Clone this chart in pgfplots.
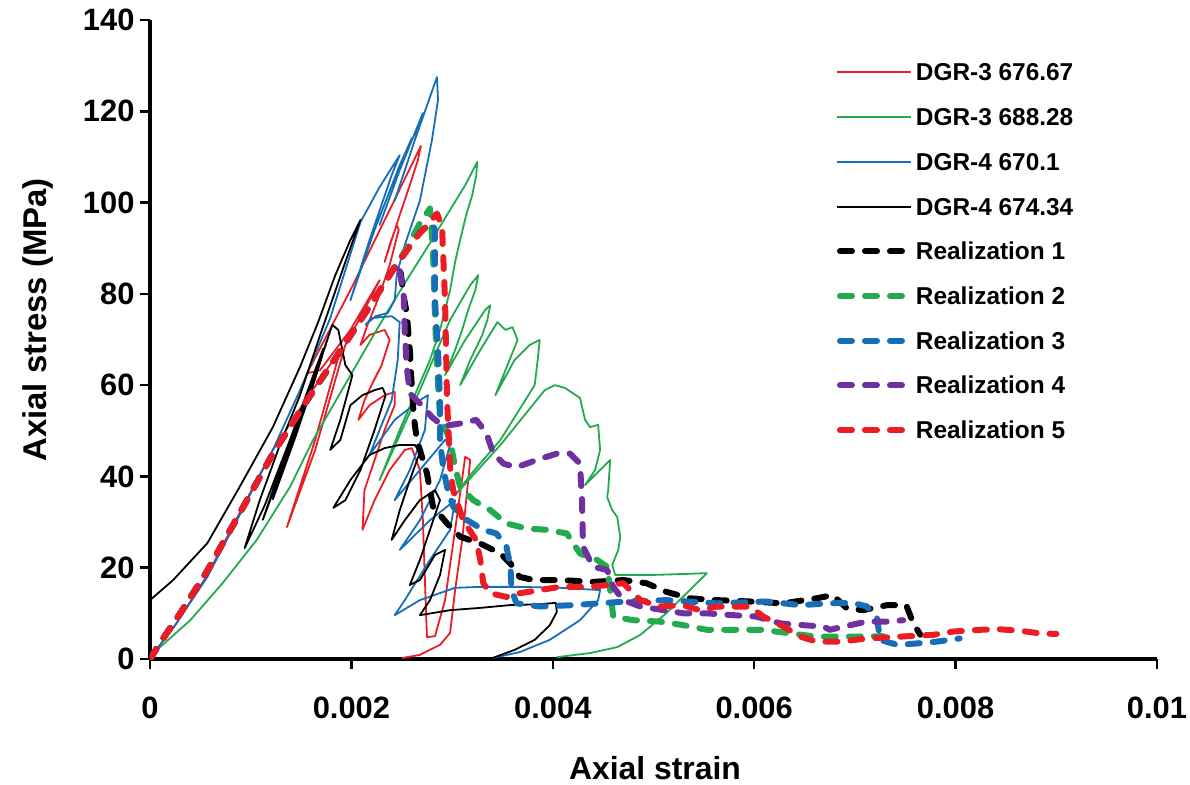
\documentclass[border=0pt]{standalone}
\usepackage{fontspec}
\setmainfont{Liberation Sans}
\usepackage{pgfplots}
\pgfplotsset{compat=1.18}
\definecolor{cred}{RGB}{237,28,36}
\definecolor{cgreen}{RGB}{34,170,76}
\definecolor{cblue}{RGB}{23,110,184}
\definecolor{cpurple}{RGB}{112,48,160}
\pgfplotsset{
  thin/.style={line width=1.8bp, line join=round},
  rdash/.style={line width=6bp, dash pattern=on 12bp off 13bp, line cap=round, line join=round,
     legend image code/.code={\draw[##1] (3bp,0bp) -- (65bp,0bp);}},
}
\begin{document}
\begin{tikzpicture}
\useasboundingbox (-150bp,-126bp) rectangle (1040bp,659bp);
\begin{axis}[
  at={(0,0)}, anchor=south west,
  scale only axis, width=1007bp, height=639bp,
  xmin=0, xmax=10, ymin=0, ymax=140,
  axis lines*=left,
  axis line style={line width=3.5bp, black},
  xtick={0,2,4,6,8,10},
  xticklabels={0,0.002,0.004,0.006,0.008,0.01},
  ytick={0,20,40,60,80,100,120,140},
  tick align=outside,
  major tick length=10bp,
  tick style={line width=2.5bp, black},
  /pgf/number format/assume math mode=true,
  ticklabel style={font=\bfseries\fontsize{31}{31}\selectfont},
  xticklabel style={yshift=-24bp},
  yticklabel style={xshift=-2bp},
  xlabel={Axial strain},
  ylabel={Axial stress (MPa)},
  xlabel style={font=\bfseries\fontsize{32}{32}\selectfont, at={(rel axis cs:0.5015,-0.1706)}, anchor=center},
  ylabel style={font=\bfseries\fontsize{33}{33}\selectfont, at={(rel axis cs:-0.1112,0.5305)}, anchor=center, rotate=0},
  legend cell align=left,
  legend style={at={(rel axis cs:0.681,0.9315)}, anchor=north west, draw=none, fill=none,
     font=\bfseries\fontsize{24.5}{24.5}\selectfont, inner sep=0pt, row sep=27.7bp,
     nodes={inner xsep=4bp, inner ysep=0pt, text height=17bp, text depth=0pt}},
  legend image code/.code={\draw[#1, line width=2bp] (0bp,0bp) -- (74bp,0bp);},
]
% DGR-3 676.67 (red thin)
\addplot[thin, cred] coordinates {
(0,0.2)(0.25,7.4)(0.57,18.4)(0.89,32.0)(1.22,45.8)(1.56,57.2)(1.89,67.7)
(1.64,48.0)(1.36,28.9)(1.64,45.8)(1.94,68.8)
(2.13,76.5)(2.28,83.0)(1.99,72.1)(1.69,63.3)(1.56,62.6)
(1.99,80.8)(2.38,98.4)(2.69,112.4)
(2.66,109.3)(2.58,103.8)(2.48,97.3)(2.40,91.8)(2.33,87.0)(2.38,90.7)(2.45,95.1)(2.47,94.0)
(2.38,86.3)(2.26,78.6)(2.16,73.2)(2.09,68.8)(2.18,71.0)(2.33,72.1)(2.38,69.9)(2.30,64.4)
(2.20,60.0)(2.13,56.7)(2.07,52.4)(2.18,55.6)(2.33,57.8)(2.43,58.5)(2.43,55.6)(2.33,50.2)
(2.23,43.6)(2.13,37.0)(2.11,28.3)(2.23,34.8)(2.38,41.4)(2.53,45.8)(2.60,46.2)(2.68,41.4)
(2.71,30.4)(2.73,17.3)(2.75,4.8)(2.83,5.0)(2.93,12.9)(3.03,28.3)(3.13,44.3)(3.18,43.6)
(3.16,39.2)(3.10,26.1)(3.03,15.1)(2.98,5.7)(2.88,3.1)(2.68,0.9)(2.50,0.2)
};
\addlegendentry{DGR-3 676.67}
% DGR-3 688.28 (green thin)
\addplot[thin, cgreen] coordinates {
(0,0.2)(0.10,2.6)(0.40,8.5)(0.72,16.6)(1.06,26.1)(1.39,37.7)(1.62,48.0)(1.89,58.3)
(2.15,68.3)(2.35,75.8)(2.58,84.1)(2.78,91.1)(2.98,98.4)(3.13,103.8)(3.25,108.9)
(3.24,106.0)(3.20,101.6)(3.14,97.3)(3.08,91.8)(3.03,87.0)(2.98,80.8)(2.88,72.1)(2.78,65.5)
(2.48,50.2)(2.28,39.2)(2.68,58.9)(2.98,74.3)(3.18,81.9)(3.26,84.1)
(3.23,80.8)(3.16,76.5)(3.10,72.1)(3.03,67.7)(2.93,62.2)(3.13,69.9)(3.33,76.5)(3.38,77.5)
(3.35,74.3)(3.30,71.0)(3.18,65.5)(3.08,60.0)(3.28,67.7)(3.45,73.8)(3.53,72.1)(3.60,72.7)
(3.65,69.9)(3.53,63.3)(3.43,57.8)(3.62,65.5)(3.77,68.8)(3.87,69.9)(3.85,65.5)(3.82,60.0)
(3.48,48.0)(3.18,40.3)(3.03,35.9)(3.48,46.9)(3.92,58.9)(4.02,60.0)(4.12,59.4)(4.27,57.2)
(4.32,52.4)(4.37,50.8)(4.45,51.3)(4.47,45.8)(4.42,41.4)(4.32,38.1)(4.47,41.4)(4.57,43.6)
(4.55,37.0)(4.54,35.5)(4.59,32.6)(4.64,31.1)(4.67,26.7)(4.65,23.9)(4.59,20.6)(4.62,18.4)
(4.97,18.4)(5.26,18.6)(5.53,18.8)(5.36,15.1)(5.13,10.1)(4.87,5.3)(4.64,2.6)(4.37,1.3)(4.04,0.4)
};
\addlegendentry{DGR-3 688.28}
% DGR-4 670.1 (blue thin)
\addplot[thin, cblue] coordinates {
(0,0.2)(0.25,7.4)(0.57,18.0)(0.89,31.5)(1.22,45.8)(1.49,58.9)(1.79,74.7)(2.09,95.7)
(2.28,103.4)(2.48,110.4)(2.40,106.0)(2.18,91.8)(1.99,78.6)(2.23,94.0)(2.48,108.2)(2.60,114.1)
(2.48,107.1)(2.28,95.1)(2.48,107.1)(2.71,119.6)(2.63,113.7)(2.43,100.4)(2.63,113.7)(2.85,127.5)
(2.86,122.5)(2.80,113.7)(2.68,100.4)(2.53,90.7)(2.45,84.1)(2.43,78.6)(2.36,75.8)(2.24,75.1)
(2.14,73.2)(2.20,74.7)(2.40,75.1)(2.48,73.8)(2.46,65.5)(2.40,56.7)(2.28,50.2)(2.18,44.7)
(2.43,52.4)(2.68,56.7)(2.76,57.8)(2.73,50.2)(2.58,41.4)(2.43,34.8)(2.68,41.4)(2.93,48.0)
(2.98,46.9)(2.88,39.2)(2.68,30.4)(2.48,23.9)(2.78,30.4)(3.03,34.8)(2.98,28.3)(2.78,21.7)
(2.53,12.9)(2.43,9.6)(2.68,12.9)(3.03,15.6)(3.28,15.8)(3.67,15.8)(4.07,15.6)(4.47,15.1)
(4.45,12.9)(4.27,8.5)(3.97,4.2)(3.67,1.5)(3.40,0.2)
};
\addlegendentry{DGR-4 670.1}
% DGR-4 674.34 (black thin)
\addplot[thin, black] coordinates {
(0,12.9)(0.23,17.3)(0.57,25.4)(0.89,37.7)(1.22,50.8)(1.49,64.0)(1.67,73.8)(1.84,84.1)
(1.99,91.8)(2.09,96.2)(1.94,87.0)(1.69,71.0)(1.49,57.8)(1.29,46.9)(1.09,34.8)(0.94,24.3)
(1.14,33.7)(1.39,48.0)(1.64,63.3)(1.72,68.0)(1.55,57.0)(1.30,42.0)(1.12,30.5)(1.35,44.0)
(1.60,59.5)(1.76,70.0)(1.62,60.0)(1.40,46.0)(1.22,35.0)(1.45,49.0)(1.68,64.5)
(1.81,73.2)(1.87,72.1)(1.94,64.4)(2.01,62.2)(1.97,58.9)
(1.89,52.4)(1.79,45.8)(1.89,48.0)(1.99,55.6)(2.11,57.8)(2.23,58.9)(2.31,59.4)(2.34,57.8)
(2.23,50.2)(2.09,41.4)(1.94,34.8)(1.82,33.1)(1.99,39.2)(2.18,44.7)(2.33,46.2)(2.48,46.9)
(2.63,46.9)(2.68,45.3)(2.58,39.2)(2.48,32.6)(2.40,26.1)(2.53,30.4)(2.68,34.8)(2.83,37.0)
(2.88,34.8)(2.78,28.3)(2.68,21.7)(2.58,16.2)(2.68,17.3)(2.83,22.8)(2.93,23.9)(2.88,18.4)
(2.78,12.9)(2.68,9.6)(2.98,10.7)(3.28,11.2)(3.57,11.8)(3.87,12.0)(4.03,12.3)(4.04,10.3)
(3.97,7.4)(3.82,4.2)(3.62,2.0)(3.40,0.2)
};
\addlegendentry{DGR-4 674.34}
% Realization 1
\addplot[rdash, black] coordinates {
(0,0)(0.1,3.5)(0.3,10)(0.56,19)(0.89,31.9)(1.22,45)(1.56,56.7)(1.89,67.5)(2.22,78.6)(2.42,85.5)
(2.48,86.3)(2.52,79.4)(2.55,75.7)(2.58,67.7)(2.60,59.6)(2.62,53)(2.65,48)(2.68,45.8)(2.75,40.7)
(2.81,33.4)(2.95,29.7)(3.08,26.8)(3.28,25.3)(3.48,23.1)(3.58,20.9)(3.67,18)(3.81,17.3)(4.07,17.3)
(4.40,16.9)(4.70,17.3)(4.93,16.6)(5.13,14.7)(5.36,13.3)(5.63,12.9)(5.96,12.6)(6.29,12.2)(6.62,13.3)
(6.78,14)(6.92,11.1)(7.08,10.7)(7.32,11.8)(7.51,11.8)(7.58,7.8)(7.65,5.3)
};
\addlegendentry{Realization 1}
% Realization 2
\addplot[rdash, cgreen] coordinates {
(0,0)(0.1,3.5)(0.3,10)(0.56,19)(0.89,31.9)(1.22,45)(1.56,56.7)(1.89,67.5)(2.22,78.6)(2.42,85.5)
(2.55,90)(2.68,95.5)(2.78,98.7)(2.81,89.6)(2.83,75)(2.85,64)(2.88,53)(2.98,48)(3.03,42)(3.08,37.7)
(3.21,34.8)(3.38,32.6)(3.54,29.7)(3.74,28.6)(3.94,28.3)(4.14,27.5)(4.27,23.1)(4.44,21.7)(4.54,20.2)
(4.57,15.1)(4.60,9.3)(4.80,8.5)(5.06,8.2)(5.30,7.4)(5.53,6.4)(5.83,6.4)(6.09,6.4)(6.36,5.6)(6.62,4.9)
(6.95,4.9)(7.28,5.0)
};
\addlegendentry{Realization 2}
% Realization 3
\addplot[rdash, cblue] coordinates {
(0,0)(0.1,3.5)(0.3,10)(0.56,19)(0.89,31.9)(1.22,45)(1.56,56.7)(1.89,67.5)(2.22,78.6)(2.42,85.5)
(2.55,89.5)(2.68,93.5)(2.80,95.5)(2.83,94)(2.83,78.6)(2.86,67.7)(2.88,56.7)(2.88,48)(2.91,42)(2.95,37.7)
(3.01,33.4)(3.15,30.4)(3.31,28.3)(3.44,27.5)(3.54,24.6)(3.58,20.2)(3.59,15.1)(3.64,12.2)(3.87,11.5)
(4.20,11.8)(4.47,12.2)(4.73,12.6)(5.13,12.9)(5.63,12.2)(6.12,12.6)(6.46,11.8)(6.75,12.2)(6.98,12.3)
(7.12,11.5)(7.22,8.9)(7.25,4.2)(7.42,3.1)(7.61,3.4)(7.81,3.8)(8.04,4.5)
};
\addlegendentry{Realization 3}
% Realization 4
\addplot[rdash, cpurple] coordinates {
(0,0)(0.1,3.5)(0.3,10)(0.56,19)(0.89,31.9)(1.22,45)(1.56,56.7)(1.89,67.5)(2.22,78.6)(2.42,85.5)
(2.45,86.7)(2.48,85.2)(2.52,79.4)(2.53,71.4)(2.55,64)(2.58,58.2)(2.68,56)(2.80,53)(2.91,51)(3.08,51.6)
(3.24,52.4)(3.34,49.5)(3.41,45)(3.51,42.8)(3.64,42)(3.84,43.6)(4.04,45)(4.17,45)(4.27,42.8)(4.29,34.8)
(4.30,24.6)(4.40,20.2)(4.54,19.5)(4.60,15.8)(4.70,12.9)(4.87,11.5)(5.10,10.7)(5.30,10)(5.53,10)
(5.79,9.6)(6.02,9.3)(6.26,7.8)(6.49,7.4)(6.69,7.1)(6.75,6.4)(6.95,7.4)(7.12,8.2)(7.32,8.2)(7.48,8.5)
};
\addlegendentry{Realization 4}
% Realization 5
\addplot[rdash, cred] coordinates {
(0,0)(0.1,3.5)(0.3,10)(0.56,19)(0.89,31.9)(1.22,45)(1.56,56.7)(1.89,67.5)(2.22,78.6)(2.42,85.5)
(2.65,92.5)(2.85,97.6)(2.90,94.7)(2.93,78.6)(2.95,56.7)(2.98,42)(3.01,37)(3.11,30.4)(3.24,26)
(3.28,21.7)(3.31,16.6)(3.38,14.4)(3.54,13.6)(3.67,14.4)(3.87,15.1)(4.07,15.8)(4.37,15.8)(4.70,16.6)
(4.87,12.9)(5.06,11.5)(5.29,11.8)(5.46,10.7)(5.63,11.5)(5.96,11.5)(6.09,9.3)(6.29,7.1)(6.46,4.9)
(6.62,3.8)(6.85,3.8)(7.12,4.5)(7.45,4.9)(7.78,5.3)(7.97,6.0)(8.24,6.4)(8.44,6.5)(8.64,6.2)(8.84,5.6)(9.00,5.5)
};
\addlegendentry{Realization 5}
\end{axis}
\end{tikzpicture}
\end{document}
